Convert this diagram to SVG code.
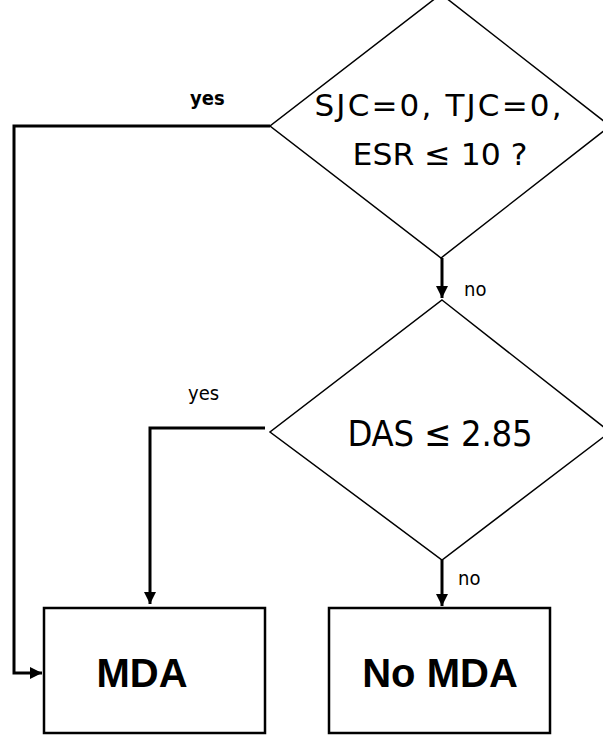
<svg xmlns="http://www.w3.org/2000/svg" width="603" height="736" viewBox="0 0 603 736">
<defs>
<style>
.shape{fill:#fff;stroke:#000;stroke-width:1.5}
.box{fill:#fff;stroke:#000;stroke-width:2.5}
.conn{fill:none;stroke:#000;stroke-width:3}
.q{font-family:"DejaVu Sans",sans-serif;fill:#000}
.qc{font-family:"DejaVu Sans Condensed","DejaVu Sans",sans-serif;fill:#000}
.lbl{font-family:"DejaVu Sans Condensed","DejaVu Sans",sans-serif;font-size:20px;fill:#000}
.out{font-family:"Liberation Sans",Arial,sans-serif;font-weight:bold;font-size:40px;fill:#000}
</style>
<marker id="ah" viewBox="0 0 10 10" refX="10" refY="5" markerWidth="4" markerHeight="4" orient="auto" markerUnits="strokeWidth">
<path d="M0,0 L10,5 L0,10 Z" fill="#000"/>
</marker>
</defs>
<rect width="603" height="736" fill="#fff"/>
<g id="q1">
<polygon class="shape" points="441,-6 610,126 441,258 270,126"/>
<text class="q" x="438" y="116" font-size="31" text-anchor="middle" textLength="247" lengthAdjust="spacing">SJC=0, TJC=0,</text>
<text class="q" x="440" y="165" font-size="31" text-anchor="middle" textLength="175" lengthAdjust="spacingAndGlyphs">ESR ≤ 10 ?</text>
</g>
<g id="q2">
<polygon class="shape" points="442,300 610,432 442,560 270,432"/>
<text class="qc" x="440" y="446" font-size="36" text-anchor="middle" textLength="185" lengthAdjust="spacing">DAS ≤ 2.85</text>
</g>
<g id="mda">
<rect class="box" x="44" y="608" width="221" height="125"/>
<text class="out" x="142" y="687" text-anchor="middle">MDA</text>
</g>
<g id="nomda">
<rect class="box" x="329" y="608" width="221" height="125"/>
<text class="out" x="440" y="687" text-anchor="middle">No MDA</text>
</g>
<g id="connectors">
<path class="conn" d="M270,126 H14 V673 H42" marker-end="url(#ah)"/>
<path class="conn" d="M442,258 V298" marker-end="url(#ah)"/>
<path class="conn" d="M265,428 H150 V604" marker-end="url(#ah)"/>
<path class="conn" d="M442,560 V606" marker-end="url(#ah)"/>
<text class="lbl" x="190" y="105" font-weight="bold">yes</text>
<text class="lbl" x="464" y="296">no</text>
<text class="lbl" x="188" y="400">yes</text>
<text class="lbl" x="458" y="585">no</text>
</g>
</svg>
